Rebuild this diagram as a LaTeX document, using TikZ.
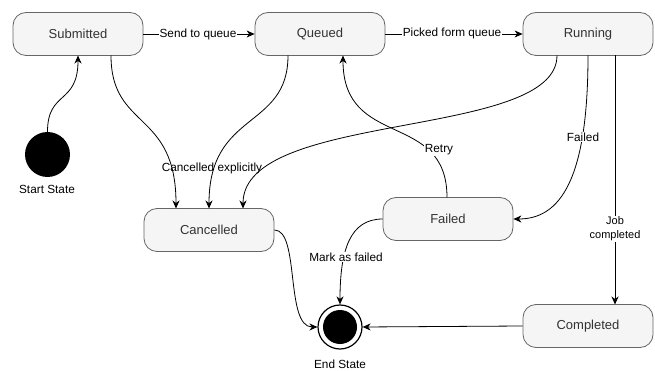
\documentclass[tikz,border=0pt]{standalone}
\usepackage{fontspec}
\setmainfont{Liberation Sans}
\usetikzlibrary{arrows.meta}
\definecolor{stfill}{HTML}{F5F5F5}
\definecolor{stline}{HTML}{666666}
\definecolor{sttext}{HTML}{333333}
\tikzset{
  state/.style={draw=stline, fill=stfill, text=sttext, rounded corners=13pt,
    minimum width=130pt, minimum height=43pt, inner sep=0pt, font=\fontsize{13}{15}\selectfont, line width=0.8pt},
  conn/.style={draw=black, line width=0.8pt, -{Stealth[length=8pt,width=7pt,inset=2.5pt]}},
  elabel/.style={fill=white, inner sep=1pt, font=\fontsize{11.8}{14}\selectfont, align=center},
  caption/.style={font=\fontsize{11.8}{14}\selectfont}
}
\begin{document}
\begin{tikzpicture}[x=1pt,y=-1pt]
  \useasboundingbox (0,0) rectangle (655,371);

  % states
  \node[state] (sub) at (78,34) {Submitted};
  \node[state] (que) at (320,34) {Queued};
  \node[state] (run) at (588,34) {Running};
  \node[state] (can) at (209,230) {Cancelled};
  \node[state] (fail) at (448,219) {Failed};
  \node[state] (comp) at (588,326) {Completed};

  % pseudo states
  \node[circle, fill=black, minimum size=45pt, inner sep=0pt] (start) at (47.5,154.5) {};
  \node[caption] (startlbl) at (47,189) {Start State};
  \node[circle, draw=black, fill=white, line width=1.2pt, minimum size=44pt, inner sep=0pt] (end) at (340,327) {};
  \node[circle, fill=black, minimum size=34pt, inner sep=0pt] (endcore) at (end) {};
  \node[caption] (endlbl) at (340,364) {End State};

  % anchor points on the states
  \coordinate (subA) at (78,55.5);
  \coordinate (subB) at (111,55.5);
  \coordinate (queA) at (288,55.5);
  \coordinate (queB) at (343,55.5);
  \coordinate (runA) at (557,55.5);
  \coordinate (runB) at (588,55.5);
  \coordinate (runC) at (615,55.5);
  \coordinate (canA) at (176,208.5);
  \coordinate (canB) at (209,208.5);
  \coordinate (canC) at (243,208.5);
  \coordinate (failTop) at (447,197.5);
  \coordinate (compTop) at (615,304.5);

  % transitions
  \draw[conn] (start.north) .. controls (47.5,90) and (78,105) .. (subA);
  \draw[conn] (sub.east) -- (que.west);
  \draw[conn] (que.east) -- (run.west);
  \draw[conn] (subB) .. controls (111,130) and (176,110) .. (canA);
  \draw[conn] (queA) .. controls (288,130) and (209,110) .. (canB);
  \draw[conn] (runA) .. controls (557,140) and (243,110) .. (canC);
  \draw[conn] (failTop) .. controls (447,110) and (343,150) .. (queB);
  \draw[conn] (runB) .. controls (588,180) and (560,219) .. (fail.east);
  \draw[conn] (runC) -- (compTop);
  \draw[conn] (can.east) .. controls (300,230) and (285,327) .. (end.west);
  \draw[conn] (fail.west) .. controls (350,219) and (340,250) .. (end.north);
  \draw[conn] (comp.west) -- (end.east);

  % transition labels
  \node[elabel] (l1) at (198,34) {Send to queue};
  \node[elabel] (l2) at (452,33) {Picked form queue};
  \node[elabel, fill=none] (l3) at (212,168) {Cancelled explicitly};
  \node[elabel] (l4) at (439,150) {Retry};
  \node[elabel] (l5) at (583,137) {Failed};
  \node[elabel, font=\fontsize{11}{14}\selectfont] (l6) at (615,229) {Job\\completed};
  \node[elabel] (l7) at (346,257) {Mark as failed};
\end{tikzpicture}
\end{document}
